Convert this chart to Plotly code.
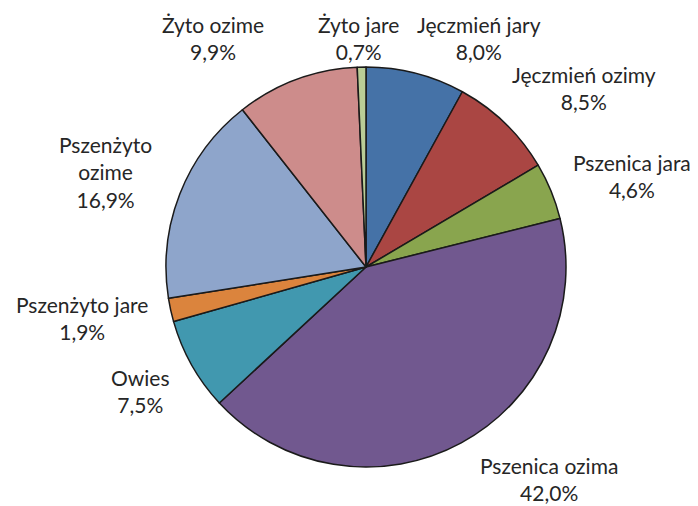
import plotly.graph_objects as go

labels = ["Jęczmień jary", "Jęczmień ozimy", "Pszenica jara", "Pszenica ozima",
          "Owies", "Pszenżyto jare", "Pszenżyto ozime", "Żyto ozime", "Żyto jare"]
values = [8.0, 8.5, 4.6, 42.0, 7.5, 1.9, 16.9, 9.9, 0.7]
colors = ["#4572A7", "#AA4643", "#89A54E", "#71588F", "#4198AF",
          "#DB843D", "#8EA5CB", "#CD8C8B", "#B9CD96"]
label_text = ["Jęczmień jary", "Jęczmień ozimy", "Pszenica jara", "Pszenica ozima",
              "Owies", "Pszenżyto jare", "Pszenżyto<br>ozime", "Żyto ozime", "Żyto jare"]
# label centre positions in pixels (layout only)
label_pos = [(479, 38), (584, 88), (632, 176), (549, 479),
             (140, 391), (82, 318), (105, 172), (213, 38), (358, 38)]

W, H = 698, 506
cx, cy, r = 366, 267, 200

fig = go.Figure(go.Pie(
    labels=labels, values=values, sort=False, direction="clockwise", rotation=0,
    marker=dict(colors=colors, line=dict(color="#1a1a1a", width=1.5)),
    textinfo="none", hoverinfo="label+percent", showlegend=False,
    domain=dict(x=[(cx - r) / W, (cx + r) / W], y=[(H - cy - r) / H, (H - cy + r) / H]),
))

for v, t, (px, py) in zip(values, label_text, label_pos):
    txt = f"{t}<br>{v:.1f}%".replace(".", ",")
    fig.add_annotation(x=px / W, y=1 - py / H, xref="paper", yref="paper",
                       text=txt, showarrow=False, xanchor="center", yanchor="middle",
                       font=dict(family="Lato, Open Sans, sans-serif", size=21, color="#262626"))

fig.update_layout(width=W, height=H, margin=dict(l=0, r=0, t=0, b=0),
                  paper_bgcolor="white", plot_bgcolor="white")
fig.write_html("out.html", config={"displayModeBar": False},
               post_script="document.body.style.margin='0px';document.body.style.overflow='hidden';")
